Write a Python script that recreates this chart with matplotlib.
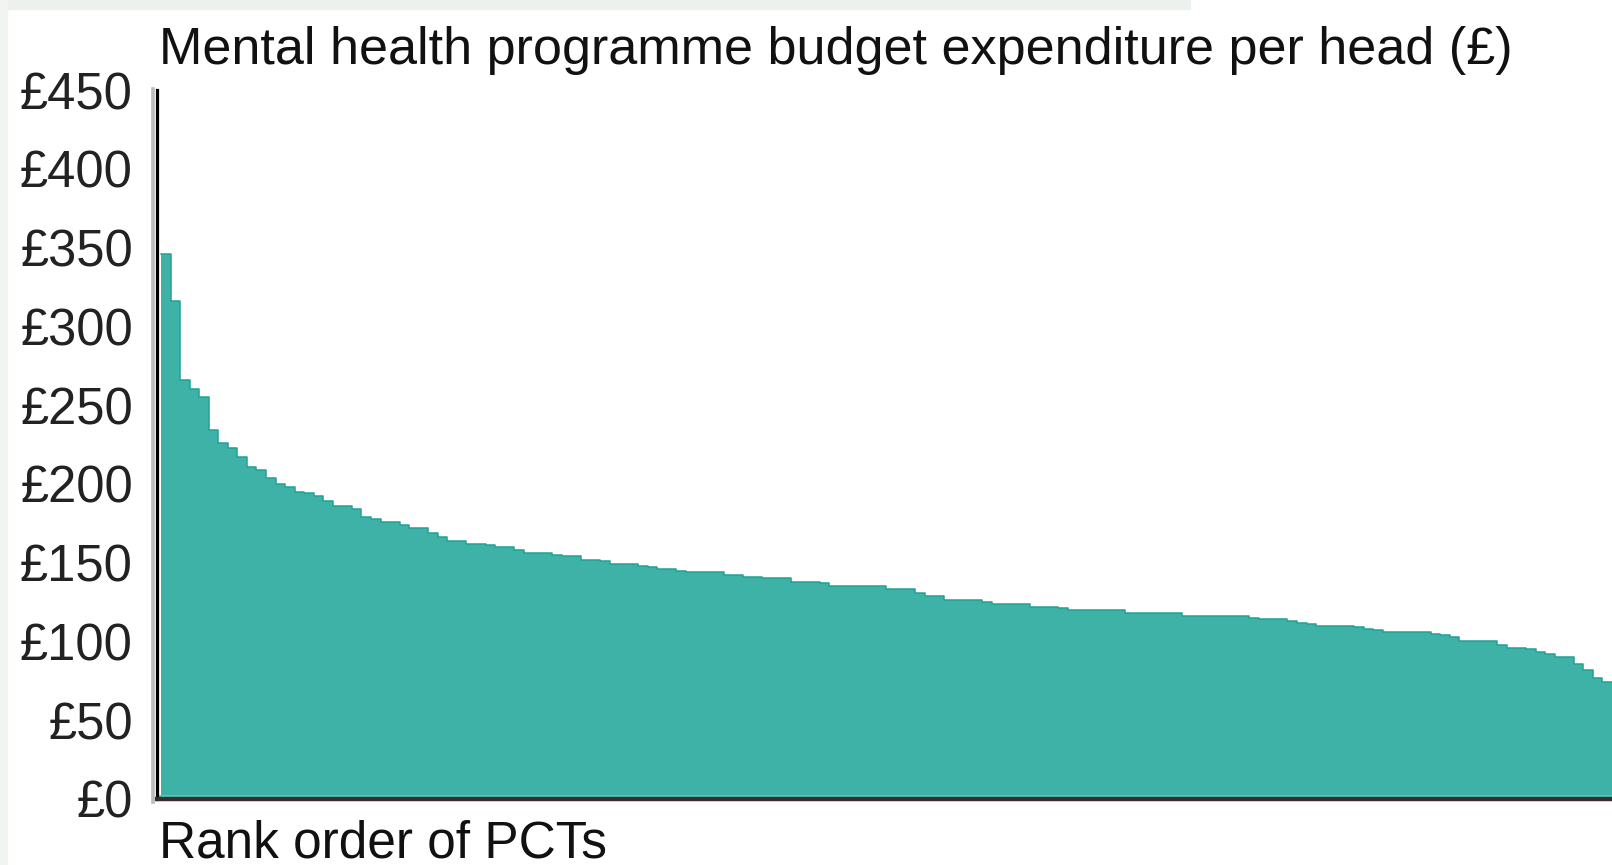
import matplotlib
matplotlib.use('Agg')
import matplotlib.pyplot as plt
import numpy as np
from matplotlib.lines import Line2D
from matplotlib.patches import Rectangle

# ---- data ----
title_text = "Mental health programme budget expenditure per head (£)"
xlabel_text = "Rank order of PCTs"
y_ticks = [0, 50, 100, 150, 200, 250, 300, 350, 400, 450]
y_tick_labels = ["£0", "£50", "£100", "£150", "£200", "£250", "£300", "£350", "£400", "£450"]

# expenditure per head (£) for each PCT, in rank order
spend_per_head = [
    346, 316, 266, 260, 255, 234, 226, 223, 217, 211,
    209, 204, 200, 198, 195, 194, 192, 189, 186, 186,
    184, 179, 178, 176, 176, 174, 172, 172, 169, 166,
    164, 164, 162, 162, 161, 160, 160, 158, 156, 156,
    156, 155, 154, 154, 152, 152, 151, 149, 149, 149,
    148, 147, 146, 146, 145, 144, 144, 144, 144, 142,
    142, 141, 141, 140, 140, 140, 138, 138, 138, 137,
    135, 135, 135, 135, 135, 135, 133, 133, 133, 131,
    129, 129, 126, 126, 126, 126, 125, 124, 124, 124,
    124, 122, 122, 122, 121, 120, 120, 120, 120, 120,
    120, 118, 118, 118, 118, 118, 118, 116, 116, 116,
    116, 116, 116, 116, 115, 114, 114, 114, 113, 112,
    111, 110, 110, 110, 110, 109, 108, 107, 106, 106,
    106, 106, 106, 105, 104, 103, 100, 100, 100, 100,
    98, 96, 96, 95, 93, 92, 90, 90, 86, 82,
    77, 74,
]

# ---- figure ----
W, H = 1612, 865
plt.rcParams['font.family'] = ['Liberation Sans', 'DejaVu Sans']
fig = plt.figure(figsize=(W / 100, H / 100), dpi=100)
fig.patch.set_facecolor('white')

# faint background bands (faded photo border in the reference)
fig.patches.append(Rectangle((0, 1 - 9 / H), 1190 / W, 9 / H, transform=fig.transFigure,
                             color='#edf1ed', zorder=0))
fig.patches.append(Rectangle((0, 0), 7 / W, 1, transform=fig.transFigure,
                             color='#f1f4f1', zorder=0))

ax = fig.add_axes([156.5 / W, 66 / H, (W - 156.5) / W, 709 / H])
n = len(spend_per_head)
edges = np.arange(n + 1)
vals = np.append(spend_per_head, spend_per_head[-1])

ax.fill_between(edges, vals, step='post', color='#3fb2a7', lw=0, zorder=2)
ax.step(edges, vals, where='post', color='#1fa294', lw=1.1, zorder=3)
ax.axhline(1.6, color='#45d2c2', lw=2.0, zorder=4)

ax.set_xlim(-0.47, n)
ax.set_ylim(0, 450)
ax.set_xticks([])
ax.set_yticks(y_ticks)
ax.set_yticklabels(y_tick_labels)
ax.tick_params(axis='y', length=0, pad=17, labelsize=36.5, labelcolor='#222222')

for s in ['top', 'right']:
    ax.spines[s].set_visible(False)
ax.spines['left'].set_color('black')
ax.spines['left'].set_linewidth(2.3)
ax.spines['bottom'].set_color('#3b2a2a')
ax.spines['bottom'].set_linewidth(3.2)
ax.spines['left'].set_zorder(5)
ax.spines['bottom'].set_zorder(5)

# grey shadow next to the y axis line
fig.add_artist(Line2D([152.5 / W, 152.5 / W], [1 - 802 / H, 1 - 89 / H], lw=2.6,
                      color='#bdbdbd', transform=fig.transFigure, zorder=1))

fig.text(159 / W, 1 - 64 / H, title_text, ha='left', va='baseline', fontsize=37.5,
         color='#111111')
fig.text(159 / W, 1 - 858 / H, xlabel_text, ha='left', va='baseline', fontsize=37,
         color='#111111')

fig.savefig('out.png', dpi=100, facecolor='white')
